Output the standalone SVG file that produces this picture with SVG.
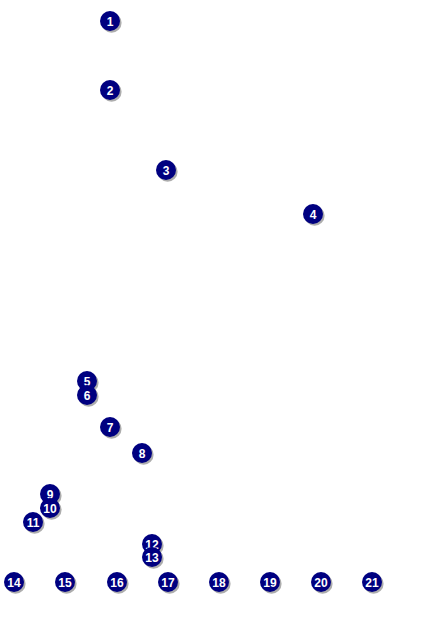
<svg xmlns="http://www.w3.org/2000/svg" width="424" height="636" viewBox="0 0 424 636">
<defs>
<style>
.sh{fill:#8a8a8a;opacity:0.7}
.c{fill:#000080}
.t{fill:#fff;font-family:"Liberation Sans",Arial,sans-serif;font-weight:bold;font-size:12px;text-anchor:middle}
</style>
<g id="m">
<circle class="sh" cx="1.6" cy="1.8" r="10"/>
<circle class="c" cx="0" cy="0" r="10"/>
</g>
</defs>
<rect width="424" height="636" fill="#fff"/>
<g id="connectors"></g>
<g id="n1" transform="translate(110,21)"><use href="#m"/><text class="t" y="4.5">1</text></g>
<g id="n2" transform="translate(110,90)"><use href="#m"/><text class="t" y="4.5">2</text></g>
<g id="n3" transform="translate(166,170)"><use href="#m"/><text class="t" y="4.5">3</text></g>
<g id="n4" transform="translate(313,214)"><use href="#m"/><text class="t" y="4.5">4</text></g>
<g id="n5" transform="translate(87,381)"><use href="#m"/><text class="t" y="4.5">5</text></g>
<g id="n6" transform="translate(87,395)"><use href="#m"/><text class="t" y="4.5">6</text></g>
<g id="n7" transform="translate(110,427)"><use href="#m"/><text class="t" y="4.5">7</text></g>
<g id="n8" transform="translate(142,453)"><use href="#m"/><text class="t" y="4.5">8</text></g>
<g id="n9" transform="translate(50,494)"><use href="#m"/><text class="t" y="4.5">9</text></g>
<g id="n10" transform="translate(50,508)"><use href="#m"/><text class="t" y="4.5">10</text></g>
<g id="n11" transform="translate(33,522)"><use href="#m"/><text class="t" y="4.5">11</text></g>
<g id="n12" transform="translate(152,544)"><use href="#m"/><text class="t" y="4.5">12</text></g>
<g id="n13" transform="translate(152,557)"><use href="#m"/><text class="t" y="4.5">13</text></g>
<g id="n14" transform="translate(14,582)"><use href="#m"/><text class="t" y="4.5">14</text></g>
<g id="n15" transform="translate(65,582)"><use href="#m"/><text class="t" y="4.5">15</text></g>
<g id="n16" transform="translate(117,582)"><use href="#m"/><text class="t" y="4.5">16</text></g>
<g id="n17" transform="translate(168,582)"><use href="#m"/><text class="t" y="4.5">17</text></g>
<g id="n18" transform="translate(219,582)"><use href="#m"/><text class="t" y="4.5">18</text></g>
<g id="n19" transform="translate(270,582)"><use href="#m"/><text class="t" y="4.5">19</text></g>
<g id="n20" transform="translate(321,582)"><use href="#m"/><text class="t" y="4.5">20</text></g>
<g id="n21" transform="translate(372,582)"><use href="#m"/><text class="t" y="4.5">21</text></g>
</svg>
